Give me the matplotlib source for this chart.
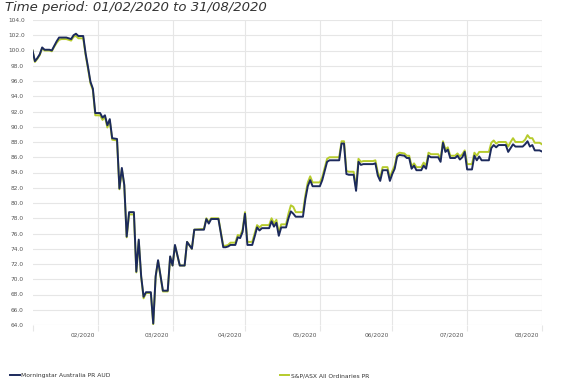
import matplotlib
matplotlib.use('Agg')
import matplotlib.pyplot as plt
import pandas as pd

# Growth of 100 (weekends carried flat)
dates = [
    '2020-02-02', '2020-02-03', '2020-02-04', '2020-02-05', '2020-02-06', '2020-02-07',
    '2020-02-09', '2020-02-10', '2020-02-11', '2020-02-12', '2020-02-13', '2020-02-14',
    '2020-02-16', '2020-02-17', '2020-02-18', '2020-02-19', '2020-02-20', '2020-02-21',
    '2020-02-23', '2020-02-24', '2020-02-25', '2020-02-26', '2020-02-27', '2020-02-28',
    '2020-03-01', '2020-03-02', '2020-03-03', '2020-03-04', '2020-03-05', '2020-03-06',
    '2020-03-08', '2020-03-09', '2020-03-10', '2020-03-11', '2020-03-12', '2020-03-13',
    '2020-03-15', '2020-03-16', '2020-03-17', '2020-03-18', '2020-03-19', '2020-03-20',
    '2020-03-22', '2020-03-23', '2020-03-24', '2020-03-25', '2020-03-27', '2020-03-29',
    '2020-03-30', '2020-03-31', '2020-04-01', '2020-04-03', '2020-04-05', '2020-04-06',
    '2020-04-08', '2020-04-09', '2020-04-13', '2020-04-14', '2020-04-15', '2020-04-16',
    '2020-04-17', '2020-04-19', '2020-04-21', '2020-04-22', '2020-04-23', '2020-04-24',
    '2020-04-26', '2020-04-27', '2020-04-28', '2020-04-29', '2020-04-30', '2020-05-01',
    '2020-05-03', '2020-05-04', '2020-05-05', '2020-05-06', '2020-05-07', '2020-05-08',
    '2020-05-10', '2020-05-11', '2020-05-12', '2020-05-13', '2020-05-14', '2020-05-15',
    '2020-05-17', '2020-05-18', '2020-05-19', '2020-05-20', '2020-05-21', '2020-05-22',
    '2020-05-24', '2020-05-25', '2020-05-26', '2020-05-27', '2020-05-28', '2020-05-29',
    '2020-05-31', '2020-06-01', '2020-06-02', '2020-06-03', '2020-06-04', '2020-06-05',
    '2020-06-08', '2020-06-09', '2020-06-10', '2020-06-11', '2020-06-12', '2020-06-14',
    '2020-06-15', '2020-06-16', '2020-06-17', '2020-06-18', '2020-06-19', '2020-06-21',
    '2020-06-22', '2020-06-23', '2020-06-24', '2020-06-25', '2020-06-26', '2020-06-28',
    '2020-06-29', '2020-06-30', '2020-07-01', '2020-07-02', '2020-07-03', '2020-07-05',
    '2020-07-06', '2020-07-07', '2020-07-08', '2020-07-09', '2020-07-10', '2020-07-12',
    '2020-07-13', '2020-07-14', '2020-07-15', '2020-07-16', '2020-07-17', '2020-07-19',
    '2020-07-20', '2020-07-21', '2020-07-22', '2020-07-23', '2020-07-24', '2020-07-26',
    '2020-07-27', '2020-07-28', '2020-07-29', '2020-07-30', '2020-07-31', '2020-08-02',
    '2020-08-03', '2020-08-04', '2020-08-05', '2020-08-06', '2020-08-07', '2020-08-09',
    '2020-08-10', '2020-08-11', '2020-08-12', '2020-08-13', '2020-08-14', '2020-08-16',
    '2020-08-17', '2020-08-18', '2020-08-19', '2020-08-20', '2020-08-21', '2020-08-23',
    '2020-08-24', '2020-08-25', '2020-08-26', '2020-08-27', '2020-08-28', '2020-08-30',
    '2020-08-31',
]

morningstar = [
    100.0, 98.6, 99.0, 99.5, 100.4, 100.1,
    100.1, 100.0, 100.6, 101.2, 101.7, 101.7,
    101.7, 101.6, 101.5, 102.0, 102.2, 101.9,
    101.9, 99.6, 97.8, 95.9, 95.0, 91.8,
    91.8, 91.2, 91.5, 90.2, 91.0, 88.5,
    88.4, 81.9, 84.6, 82.4, 75.6, 78.8,
    78.8, 71.0, 75.2, 70.4, 67.7, 68.3,
    68.3, 64.2, 70.4, 72.5, 68.5, 68.5,
    73.0, 71.8, 74.5, 71.8, 71.8, 74.9,
    74.0, 76.5, 76.5, 77.9, 77.3, 77.9,
    77.9, 77.9, 74.2, 74.2, 74.3, 74.5,
    74.5, 75.5, 75.4, 76.2, 78.6, 74.5,
    74.5, 75.6, 76.8, 76.4, 76.7, 76.7,
    76.7, 77.6, 76.9, 77.4, 75.7, 76.8,
    76.8, 78.0, 78.9, 78.6, 78.2, 78.2,
    78.2, 80.5, 82.2, 83.0, 82.2, 82.2,
    82.2, 83.0, 84.2, 85.4, 85.6, 85.6,
    85.6, 87.8, 87.8, 83.8, 83.7, 83.7,
    81.6, 85.4, 85.0, 85.1, 85.1, 85.1,
    85.1, 85.2, 83.6, 82.9, 84.3, 84.3,
    82.9, 83.8, 84.5, 86.1, 86.3, 86.2,
    85.9, 85.9, 84.5, 84.9, 84.3, 84.3,
    84.9, 84.5, 86.2, 86.0, 86.0, 86.0,
    85.4, 87.9, 86.7, 87.0, 85.9, 85.9,
    86.2, 85.7, 86.0, 86.7, 84.4, 84.4,
    86.2, 85.6, 86.1, 85.6, 85.6, 85.6,
    87.2, 87.6, 87.3, 87.6, 87.6, 87.6,
    86.7, 87.2, 87.7, 87.4, 87.4, 87.4,
    87.7, 88.1, 87.4, 87.6, 86.9, 86.9,
    86.75,
]

all_ords = [
    100.0, 98.5, 98.9, 99.4, 100.3, 100.0,
    100.0, 99.9, 100.5, 101.0, 101.4, 101.5,
    101.5, 101.4, 101.3, 101.8, 101.9, 101.6,
    101.6, 99.4, 97.6, 95.7, 94.8, 91.5,
    91.5, 90.9, 91.3, 89.9, 90.8, 88.3,
    88.2, 81.8, 84.4, 82.3, 75.5, 78.5,
    78.5, 70.9, 75.0, 70.3, 67.5, 68.2,
    68.2, 64.1, 70.3, 72.4, 68.4, 68.4,
    72.9, 71.8, 74.4, 71.8, 71.8, 74.9,
    74.0, 76.5, 76.6, 78.0, 77.5, 78.0,
    78.0, 78.0, 74.4, 74.4, 74.5, 74.8,
    74.8, 75.8, 75.7, 76.5, 78.8, 74.9,
    74.9, 76.0, 77.1, 76.8, 77.1, 77.1,
    77.1, 78.0, 77.3, 77.8, 76.1, 77.2,
    77.2, 78.6, 79.7, 79.5, 78.8, 78.8,
    78.8, 81.0, 82.7, 83.5, 82.7, 82.7,
    82.7, 83.4, 84.6, 85.8, 86.0, 86.0,
    86.0, 88.1, 88.1, 84.2, 84.1, 84.1,
    82.0, 85.8, 85.4, 85.5, 85.5, 85.5,
    85.5, 85.6, 84.0, 83.3, 84.7, 84.7,
    83.3, 84.2, 84.9, 86.4, 86.6, 86.5,
    86.2, 86.2, 84.8, 85.2, 84.7, 84.7,
    85.3, 84.9, 86.6, 86.4, 86.4, 86.4,
    85.8, 88.1, 87.0, 87.3, 86.2, 86.2,
    86.5, 86.1, 86.4, 86.9, 85.1, 85.1,
    86.6, 86.2, 86.7, 86.7, 86.7, 86.7,
    87.9, 88.2, 87.8, 88.0, 88.0, 88.0,
    87.4, 88.0, 88.5, 88.0, 88.0, 88.0,
    88.3, 88.9, 88.5, 88.5, 87.9, 87.9,
    87.7,
]

series_names = ['Morningstar Australia PR AUD', 'S&P/ASX All Ordinaries PR']
month_ends = ['2020-02-29', '2020-03-31', '2020-04-30', '2020-05-31',
              '2020-06-30', '2020-07-31', '2020-08-31']
title = 'Time period: 01/02/2020 to 31/08/2020'

df = pd.DataFrame({'date': pd.to_datetime(dates),
                   'ms': morningstar, 'ao': all_ords})
ticks = pd.to_datetime(month_ends)

navy = '#1c2a5c'
lime = '#b6cb2c'
grid_c = '#e6e6e6'
label_c = '#555555'

fig = plt.figure(figsize=(5.86, 3.91), dpi=100)
ax = fig.add_axes([32.5 / 586, 1 - 325 / 391, (542 - 32.5) / 586, 305 / 391])

# S&P underneath, Morningstar on top
l_ao, = ax.plot(df['date'], df['ao'], color=lime, lw=1.4, label=series_names[1])
l_ms, = ax.plot(df['date'], df['ms'], color=navy, lw=1.4, label=series_names[0])

ax.set_xlim(df['date'].iloc[0], ticks[-1])
ax.set_ylim(64, 104)
ax.set_yticks([64 + 2 * i for i in range(21)])
ax.yaxis.set_major_formatter(matplotlib.ticker.FormatStrFormatter('%.1f'))

ax.set_xticks(ticks)
ax.set_xticklabels([t.strftime('%m/%Y') for t in ticks])
ax.set_xticks([df['date'].iloc[0]], minor=True)

for s in ax.spines.values():
    s.set_visible(False)
ax.grid(True, which='major', color=grid_c, lw=0.8)
ax.set_axisbelow(True)

ax.tick_params(axis='x', which='both', length=4, width=0.8, color=grid_c,
               labelsize=4.2, labelcolor=label_c, pad=1.5)
ax.tick_params(axis='y', length=0, labelsize=4.2, labelcolor=label_c, pad=11)
for lab in ax.get_yticklabels():
    lab.set_horizontalalignment('center')
for lab in ax.get_xticklabels():
    lab.set_horizontalalignment('right')
    lab.set_transform(lab.get_transform() +
                      matplotlib.transforms.ScaledTranslation(-3 / 100, 0, fig.dpi_scale_trans))

# title squeezed into the strip above the plot
fig.text(5 / 586, 1 - 1.5 / 391, title, style='italic', fontsize=9.5,
         color='#333333', va='top', ha='left')

fig.legend(handles=[l_ms], loc='center left', bbox_to_anchor=(10 / 586, 1 - 375.5 / 391),
           frameon=False, fontsize=4.3, handlelength=1.6, handletextpad=0.3,
           borderpad=0, borderaxespad=0, labelcolor='#333333')
fig.legend(handles=[l_ao], loc='center left', bbox_to_anchor=(279.5 / 586, 1 - 375.5 / 391),
           frameon=False, fontsize=4.3, handlelength=1.6, handletextpad=0.3,
           borderpad=0, borderaxespad=0, labelcolor='#333333')

plt.savefig('out.png', dpi=100)
plt.close()
